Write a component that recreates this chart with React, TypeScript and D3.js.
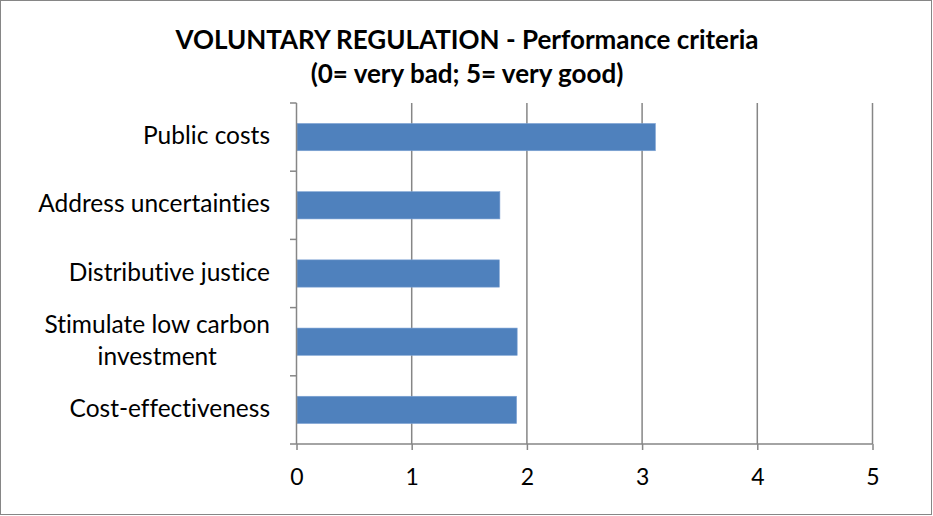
import React, { useEffect, useRef } from "react";
import * as d3 from "d3";

const WIDTH = 933;
const HEIGHT = 516;
const MARGIN = { top: 103, right: 61, bottom: 72, left: 296 };

const TITLE_LINES = ["VOLUNTARY REGULATION - Performance criteria", "(0= very bad; 5= very good)"];

// top to bottom, as drawn
const categories = [
  "Public costs",
  "Address uncertainties",
  "Distributive justice",
  "Stimulate low carbon investment",
  "Cost-effectiveness",
];
const scores = [3.12, 1.77, 1.765, 1.92, 1.915];
const xTicks = [0, 1, 2, 3, 4, 5];

// category labels that wrap in the original
const labelLines: Record<string, string[]> = {
  "Stimulate low carbon investment": ["Stimulate low carbon", "investment"],
};

const FONT = "Lato, 'Open Sans', sans-serif";
const BAR_COLOR = "#4f81bd";
const GRID_COLOR = "#868686";

export default function App() {
  const svgRef = useRef<SVGSVGElement>(null);

  useEffect(() => {
    const svg = svgRef.current;
    if (!svg) return;
    const root = d3.select(svg);
    root.selectAll("*").remove();

    const innerW = WIDTH - MARGIN.left - MARGIN.right;
    const innerH = HEIGHT - MARGIN.top - MARGIN.bottom;

    // outer chart border
    root
      .append("rect")
      .attr("x", 0.5)
      .attr("y", 0.5)
      .attr("width", WIDTH - 2)
      .attr("height", HEIGHT - 2)
      .attr("fill", "#fff")
      .attr("stroke", GRID_COLOR);

    // Title
    root
      .append("g")
      .selectAll("text")
      .data(TITLE_LINES)
      .enter()
      .append("text")
      .attr("x", 467)
      .attr("y", (_, i) => 49 + i * 34)
      .attr("text-anchor", "middle")
      .attr("font-family", FONT)
      .attr("font-weight", "bold")
      .attr("font-size", "26px")
      .attr("fill", "#000")
      .text((d) => d);

    const g = root.append("g").attr("transform", `translate(${MARGIN.left},${MARGIN.top})`);

    const x = d3.scaleLinear().domain([0, 5]).range([0, innerW]);
    const y = d3.scaleBand<string>().domain(categories).range([0, innerH]).paddingInner(0.6).paddingOuter(0.3);
    const band = d3.scaleBand<string>().domain(categories).range([0, innerH]);

    // vertical gridlines
    g.append("g")
      .selectAll("line")
      .data(xTicks.slice(1))
      .enter()
      .append("line")
      .attr("x1", (d) => x(d) + 0.5)
      .attr("x2", (d) => x(d) + 0.5)
      .attr("y1", 0)
      .attr("y2", innerH)
      .attr("stroke", GRID_COLOR)
      .attr("stroke-width", 1.5);

    // bars
    g.append("g")
      .selectAll("rect")
      .data(categories)
      .enter()
      .append("rect")
      .attr("x", x(0) + 1)
      .attr("y", (d) => y(d) as number)
      .attr("width", (_, i) => x(scores[i]) - x(0) - 1)
      .attr("height", y.bandwidth())
      .attr("fill", BAR_COLOR)
      .attr("stroke", "#7ea3d4")
      .attr("stroke-width", 0.6);

    // x axis
    const xAxis = g
      .append("g")
      .attr("transform", `translate(0.5,${innerH})`)
      .call(d3.axisBottom(x).tickValues(xTicks).tickSize(6).tickFormat(d3.format("d")));
    xAxis.select(".domain").attr("stroke", GRID_COLOR).attr("stroke-width", 1.5).attr("d", `M0,0H${innerW}`);
    xAxis.selectAll("line").attr("stroke", GRID_COLOR).attr("stroke-width", 1.5);
    xAxis
      .selectAll("text")
      .attr("y", 41)
      .attr("dy", null)
      .attr("font-family", FONT)
      .attr("font-size", "23px")
      .attr("fill", "#000");

    // y axis line + boundary ticks
    g.append("line")
      .attr("x1", 0.5)
      .attr("x2", 0.5)
      .attr("y1", 0)
      .attr("y2", innerH)
      .attr("stroke", GRID_COLOR)
      .attr("stroke-width", 1.5);
    const bounds = categories.map((c) => band(c) as number).concat([innerH]);
    g.append("g")
      .selectAll("line")
      .data(bounds)
      .enter()
      .append("line")
      .attr("x1", -6)
      .attr("x2", 0.5)
      .attr("y1", (d) => d)
      .attr("y2", (d) => d)
      .attr("stroke", GRID_COLOR)
      .attr("stroke-width", 1.5);

    // category labels
    const labels = g
      .append("g")
      .selectAll("text")
      .data(categories)
      .enter()
      .append("text")
      .attr("font-family", FONT)
      .attr("font-size", "24.5px")
      .attr("fill", "#000")
      .attr("transform", (d) => `translate(-26,${(band(d) as number) + band.bandwidth() / 2 + 7})`);
    labels.each(function (d) {
      const lines = labelLines[d] || [d];
      const t = d3.select(this);
      const spans = lines.map((ln, i) =>
        t
          .append("tspan")
          .attr("x", 0)
          .attr("y", (i - (lines.length - 1) / 2) * 32)
          .attr("text-anchor", "end")
          .text(ln)
      );
      // center continuation lines under the first line
      if (spans.length > 1) {
        const w = (spans[0].node() as SVGTSpanElement).getComputedTextLength();
        spans.slice(1).forEach((s) => s.attr("text-anchor", "middle").attr("x", -w / 2));
      }
    });
  }, []);

  return (
    <svg
      ref={svgRef}
      width={WIDTH}
      height={HEIGHT}
      style={{ position: "absolute", left: 0, top: 0, display: "block", fontVariantLigatures: "none" }}
    />
  );
}
